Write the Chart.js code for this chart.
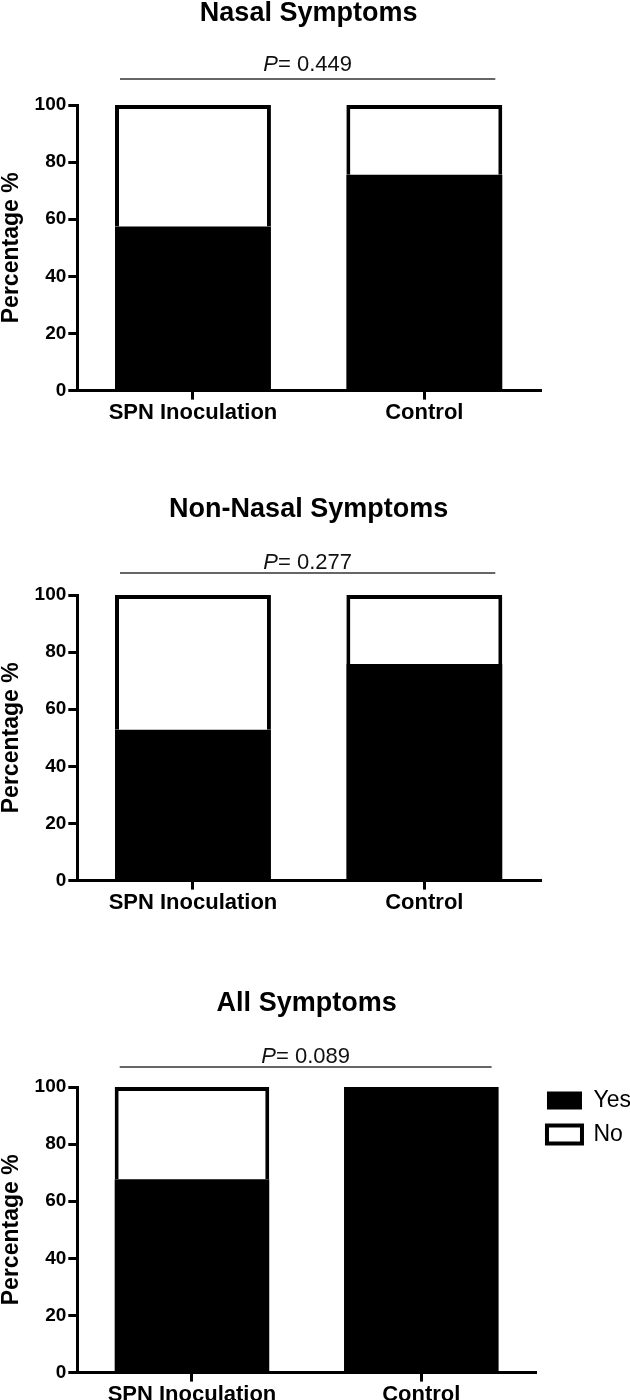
<!DOCTYPE html>
<html>
<head>
<meta charset="utf-8">
<script src="https://cdn.jsdelivr.net/npm/chart.js@4.4.0/dist/chart.umd.min.js"></script>
<style>
  html, body { margin: 0; padding: 0; background: #fff; width: 630px; height: 1400px; overflow: hidden; }
  .panel { position: absolute; left: 0; width: 630px; height: 440px; }
</style>
</head>
<body>
<div class="panel" style="top:0px"><canvas id="c1" width="630" height="440"></canvas></div>
<div class="panel" style="top:490px"><canvas id="c2" width="630" height="440"></canvas></div>
<div class="panel" style="top:982px"><canvas id="c3" width="630" height="440"></canvas></div>
<script>
// data
const groups = ['SPN Inoculation', 'Control'];
const titles = ['Nasal Symptoms', 'Non-Nasal Symptoms', 'All Symptoms'];
const pValues = ['0.449', '0.277', '0.089'];
const yesNasal = [57.5, 75.6];
const noNasal = [42.5, 24.4];
const yesNonNasal = [52.8, 75.8];
const noNonNasal = [47.2, 24.2];
const yesAll = [67.7, 100];
const noAll = [32.3, 0];
const yTicks = [0, 20, 40, 60, 80, 100];

const fam = '"Liberation Sans", Arial, Helvetica, sans-serif';

// the "P= x" bracket above the bars
const pLinePlugin = {
  id: 'pLine',
  afterDraw(chart, args, opts) {
    const ctx = chart.ctx;
    const bars = chart.getDatasetMeta(0).data;
    const first = bars[0], last = bars[bars.length - 1];
    const x1 = first.x - first.width / 2 + 5;
    const x2 = last.x + last.width / 2 - 7;
    const top = chart.chartArea.top;
    const yLine = top - opts.lineGap;
    ctx.save();
    ctx.strokeStyle = '#333';
    ctx.lineWidth = 1.5;
    ctx.beginPath();
    ctx.moveTo(x1, yLine);
    ctx.lineTo(x2, yLine);
    ctx.stroke();

    const italic = 'italic 22px ' + fam;
    const regular = '22px ' + fam;
    const rest = '= ' + opts.value;
    ctx.font = italic;
    const wP = ctx.measureText('P').width;
    ctx.font = regular;
    const wR = ctx.measureText(rest).width;
    let x = (x1 + x2) / 2 - (wP + wR) / 2;
    const yText = top - opts.textGap;
    ctx.fillStyle = '#111';
    ctx.textBaseline = 'middle';
    ctx.textAlign = 'left';
    ctx.font = italic;
    ctx.fillText('P', x, yText);
    ctx.font = regular;
    ctx.fillText(rest, x + wP, yText);
    ctx.restore();
  }
};

function makeChart(id, title, pValue, yes, no, lay) {
  const legendOpts = lay.legend ? {
    display: true,
    position: 'right',
    align: 'start',
    fullSize: true,
    title: { display: true, text: ' ', font: { family: fam, size: 10, lineHeight: 1 }, padding: { top: 86, bottom: 0 } },
    labels: {
      color: '#000',
      boxWidth: 35,
      boxHeight: 18,
      padding: 11,
      font: { family: fam, size: 23 }
    }
  } : { display: false };

  new Chart(document.getElementById(id), {
    type: 'bar',
    data: {
      labels: groups,
      datasets: [
        { label: 'Yes', data: yes, backgroundColor: '#000', borderColor: '#000', borderWidth: 0 },
        { label: 'No', data: no, backgroundColor: '#fff', borderColor: '#000', borderWidth: 4 }
      ]
    },
    options: {
      responsive: false,
      animation: false,
      devicePixelRatio: 1,
      layout: { padding: { top: 0, bottom: 14, left: -2, right: lay.right } },
      datasets: { bar: { barPercentage: 0.674, categoryPercentage: 1 } },
      plugins: {
        title: {
          display: true,
          text: title,
          color: '#000',
          fullSize: false,
          font: { family: fam, size: 27, weight: 'bold', lineHeight: 1 },
          padding: { top: lay.titleTop, bottom: 78 - lay.titleTop }
        },
        legend: legendOpts,
        tooltip: { enabled: false },
        pLine: { value: pValue, lineGap: lay.lineGap, textGap: lay.textGap }
      },
      scales: {
        x: {
          stacked: true,
          grid: { offset: false, drawOnChartArea: false, tickLength: 9, lineWidth: 3, color: '#000' },
          border: { color: '#000', width: 3 },
          ticks: { color: '#000', padding: 0, font: { family: fam, size: 22, weight: 'bold' } }
        },
        y: {
          stacked: true,
          min: 0,
          max: 100,
          afterBuildTicks: (scale) => { scale.ticks = yTicks.map(v => ({ value: v })); },
          grid: { drawOnChartArea: false, tickLength: 9, lineWidth: 3, color: '#000' },
          border: { color: '#000', width: 3 },
          ticks: { color: '#000', padding: 2, font: { family: fam, size: 19, weight: 'bold' } },
          title: {
            display: true,
            text: 'Percentage %',
            color: '#000',
            font: { family: fam, size: 23, weight: 'bold' },
            padding: { top: 0, bottom: 7 }
          }
        }
      }
    },
    plugins: [pLinePlugin]
  });
}

makeChart('c1', titles[0], pValues[0], yesNasal, noNasal, { right: 90, titleTop: 0, lineGap: 26, textGap: 40, legend: false });
makeChart('c2', titles[1], pValues[1], yesNonNasal, noNonNasal, { right: 90, titleTop: 6, lineGap: 22, textGap: 32, legend: false });
makeChart('c3', titles[2], pValues[2], yesAll, noAll, { right: -11, titleTop: 8, lineGap: 20, textGap: 30, legend: true });
</script>
</body>
</html>
